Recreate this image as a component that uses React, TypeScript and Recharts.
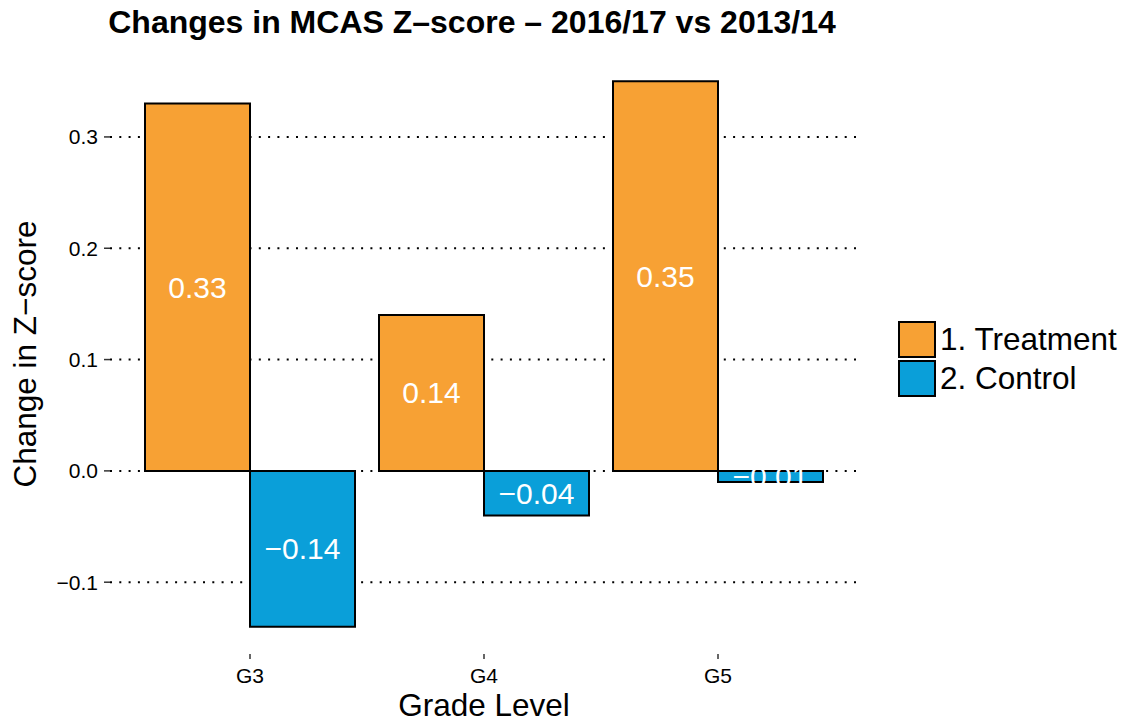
import { BarChart, Bar, XAxis, YAxis, CartesianGrid, Legend, LabelList, Label } from 'recharts'

const grades = ['G3', 'G4', 'G5']
const treatment = [0.33, 0.14, 0.35]
const control = [-0.14, -0.04, -0.01]
const yTicks = [-0.1, 0, 0.1, 0.2, 0.3]
const seriesNames = ['1. Treatment', '2. Control']
const COLORS = ['#F7A134', '#0A9FD9']

const data = grades.map((g, i) => ({ grade: g, treatment: treatment[i], control: control[i] }))

const FONT = '"Liberation Sans", Arial, sans-serif'

const fmt = (v: number, digits: number) => (v < 0 ? '\u2212' + Math.abs(v).toFixed(digits) : v.toFixed(digits))

const BarValue = (props: any) => {
	const { x, y, width, height, value } = props
	return (
		<text
			x={x + width / 2}
			y={y + height / 2}
			textAnchor="middle"
			dominantBaseline="central"
			fill="#fff"
			fontSize={30}
			fontFamily={FONT}
		>
			{fmt(value, 2)}
		</text>
	)
}

const LegendBox = () => (
	<div style={{ width: 227, paddingLeft: 40, boxSizing: 'border-box', fontFamily: FONT, fontSize: 31.5 }}>
		{seriesNames.map((name, i) => (
			<div key={name} style={{ display: 'flex', alignItems: 'center', height: 38, marginBottom: i === 0 ? 1 : 0 }}>
				<div
					style={{
						flex: '0 0 auto',
						width: 34,
						height: 33,
						background: COLORS[i],
						border: '2px solid #000',
						marginRight: 4,
					}}
				/>
				<span style={{ lineHeight: '38px', whiteSpace: 'nowrap' }}>{name}</span>
			</div>
		))}
	</div>
)

const XTitle = (props: any) => {
	const { viewBox } = props
	return (
		<text x={viewBox.x + viewBox.width / 2} y={716} textAnchor="middle" fontSize={31.5} fontFamily={FONT} fill="#000">
			Grade Level
		</text>
	)
}

const YTitle = (props: any) => {
	const { viewBox } = props
	const cy = viewBox.y + viewBox.height / 2
	return (
		<text
			x={36}
			y={cy}
			transform={`rotate(-90, 36, ${cy})`}
			textAnchor="middle"
			fontSize={31.5}
			fontFamily={FONT}
			fill="#000"
		>
			Change in Z{'\u2212'}score
		</text>
	)
}

export default function App() {
	return (
		<div style={{ position: 'absolute', left: 0, top: 0, width: 1125, height: 725, background: '#fff' }}>
			<svg width={1125} height={50} style={{ position: 'absolute', left: 0, top: 0 }}>
				<text x={472} y={33} textAnchor="middle" fontFamily={FONT} fontWeight="bold" fontSize={32} fill="#000">
					Changes in MCAS Z{'\u2013'}score {'\u2013'} 2016/17 vs 2013/14
				</text>
			</svg>
			<BarChart
				width={1125}
				height={725}
				data={data}
				margin={{ top: 54, right: 40, bottom: 31, left: 20 }}
				barCategoryGap={12}
				barGap={0}
			>
				<CartesianGrid
					vertical={false}
					horizontalValues={yTicks}
					stroke="#000"
					strokeWidth={2}
					strokeDasharray="2 7.3"
				/>
				<XAxis
					dataKey="grade"
					height={40}
					padding={{ left: 23, right: 23 }}
					axisLine={false}
					tickLine={{ stroke: '#333', strokeWidth: 1.5 }}
					tickSize={5}
					tickMargin={9}
					tick={{ fill: '#000', fontSize: 21, fontFamily: FONT }}
				>
					<Label content={<XTitle />} />
				</XAxis>
				<YAxis
					width={90}
					domain={[-0.1645, 0.3745]}
					ticks={yTicks}
					allowDataOverflow
					axisLine={false}
					tickLine={{ stroke: '#333', strokeWidth: 1.5 }}
					tickSize={6}
					tickMargin={6}
					tickFormatter={(v: number) => fmt(v, 1)}
					tick={{ fill: '#000', fontSize: 21, fontFamily: FONT }}
				>
					<Label content={<YTitle />} />
				</YAxis>
				<Legend
					layout="vertical"
					align="right"
					verticalAlign="middle"
					wrapperStyle={{ top: 320 }}
					content={<LegendBox />}
				/>
				<Bar dataKey="treatment" name={seriesNames[0]} fill={COLORS[0]} stroke="#000" strokeWidth={2} isAnimationActive={false}>
					<LabelList dataKey="treatment" content={<BarValue />} />
				</Bar>
				<Bar dataKey="control" name={seriesNames[1]} fill={COLORS[1]} stroke="#000" strokeWidth={2} isAnimationActive={false}>
					<LabelList dataKey="control" content={<BarValue />} />
				</Bar>
			</BarChart>
		</div>
	)
}
